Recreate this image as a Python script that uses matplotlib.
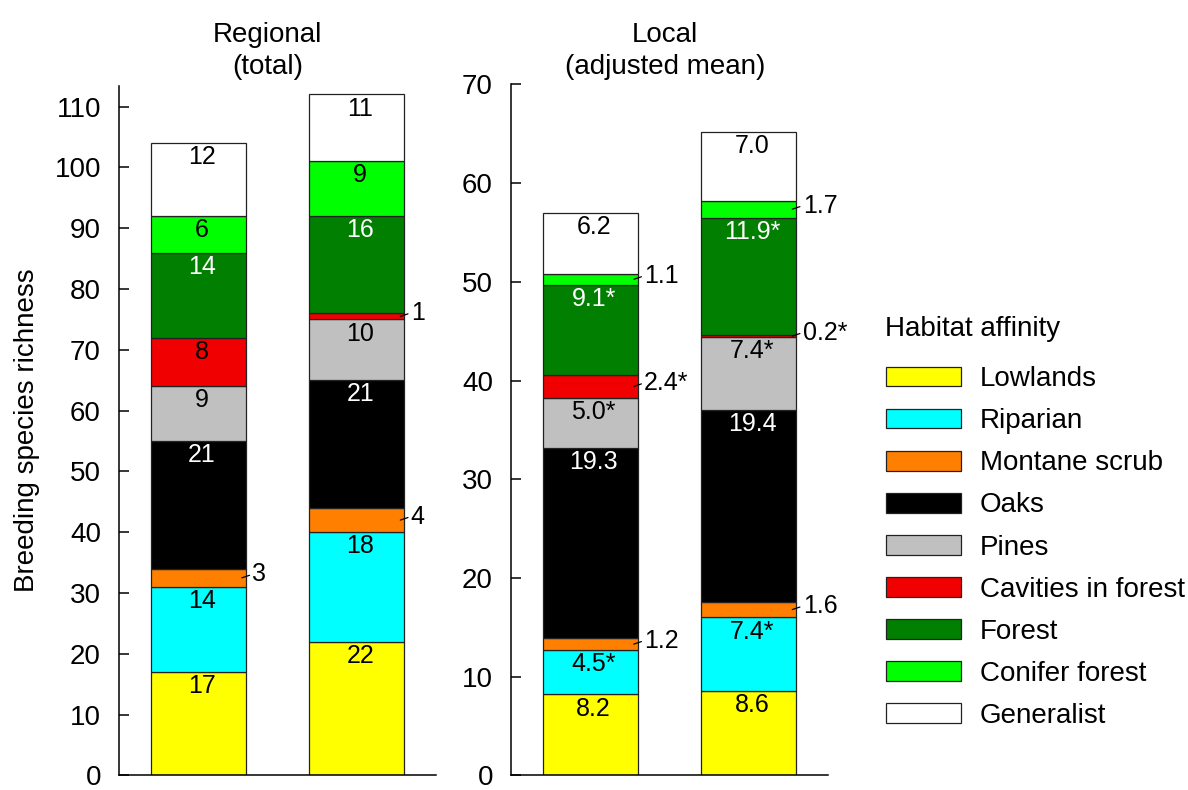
import matplotlib
matplotlib.use("Agg")
import matplotlib.pyplot as plt
from matplotlib.patches import Patch
import numpy as np

plt.rcParams['font.family'] = ['Liberation Sans', 'DejaVu Sans']

# Habitat-affinity guilds, stacked bottom to top
categories = ['Lowlands', 'Riparian', 'Montane scrub', 'Oaks', 'Pines',
              'Cavities in forest', 'Forest', 'Conifer forest', 'Generalist']
colors = ['#FFFF00', '#00FFFF', '#FF8000', '#000000', '#C0C0C0',
          '#F00000', '#007F00', '#00FF00', '#FFFFFF']
text_colors = ['black', 'black', 'black', 'white', 'black',
               'black', 'white', 'black', 'black']

# Regional species totals for the two bars
regional_a = [17, 14, 3, 21, 9, 8, 14, 6, 12]
regional_b = [22, 18, 4, 21, 10, 1, 16, 9, 11]

# Local adjusted means (asterisk = significant difference)
local_a = [8.2, 4.5, 1.2, 19.3, 5.0, 2.4, 9.1, 1.1, 6.2]
local_b = [8.6, 7.4, 1.6, 19.4, 7.4, 0.2, 11.9, 1.7, 7.0]
local_a_sig = [False, True, False, False, True, True, True, False, False]
local_b_sig = [False, True, False, False, True, True, True, False, False]

regional_ticks = list(range(0, 111, 10))
local_ticks = list(range(0, 71, 10))

fig = plt.figure(figsize=(11.88, 7.90), dpi=100)
ax_reg = fig.add_axes([0.1002, 0.0184, 0.2668, 0.8728])
ax_loc = fig.add_axes([0.4301, 0.0184, 0.2668, 0.8749])

BAR_W = 0.6
INLABEL = 18
TICKFS = 20


def stacked(ax, series, labels, min_inside):
    for xi, (vals, labs) in enumerate(zip(series, labels)):
        bottom = 0.0
        for k, (v, lab) in enumerate(zip(vals, labs)):
            ax.bar(xi, v, width=BAR_W, bottom=bottom, color=colors[k],
                   edgecolor='#222222', linewidth=0.9, zorder=2)
            top = bottom + v
            if v >= min_inside:
                ax.annotate(lab, xy=(xi, top), xytext=(2.5, -1.5),
                            textcoords='offset points', ha='center', va='top',
                            fontsize=INLABEL, color=text_colors[k], zorder=3)
            else:
                yc = bottom + v / 2
                ax.annotate(lab, xy=(xi + BAR_W / 2 - 0.025, yc),
                            xytext=(7.5, 2.5), textcoords='offset points',
                            ha='left', va='center', fontsize=INLABEL,
                            color='black', zorder=3,
                            arrowprops=dict(arrowstyle='-', lw=0.9,
                                            color='black', shrinkA=0,
                                            shrinkB=0, relpos=(0, 0.5)))
            bottom = top


def style(ax, ymax, ticks):
    ax.set_xlim(-0.5, 1.5)
    ax.set_ylim(0, ymax)
    ax.set_yticks(ticks)
    ax.spines['top'].set_visible(False)
    ax.spines['right'].set_visible(False)
    for s in ('left', 'bottom'):
        ax.spines[s].set_linewidth(1.1)
    ax.tick_params(axis='y', direction='in', length=7, width=1.1,
                   labelsize=TICKFS, pad=13)
    ax.tick_params(axis='x', bottom=False, labelbottom=False)


reg_labels = [[f'{v:d}' for v in regional_a], [f'{v:d}' for v in regional_b]]
loc_labels = [[f'{v:.1f}' + ('*' if s else '') for v, s in zip(local_a, local_a_sig)],
              [f'{v:.1f}' + ('*' if s else '') for v, s in zip(local_b, local_b_sig)]]

stacked(ax_reg, [regional_a, regional_b], reg_labels, min_inside=5)
stacked(ax_loc, [local_a, local_b], loc_labels, min_inside=3)
style(ax_reg, 113.4, regional_ticks)
style(ax_loc, 70, local_ticks)

fig.text(0.225, 0.899, 'Regional\n(total)', ha='center', va='bottom',
         fontsize=20, linespacing=1.3)
fig.text(0.560, 0.899, 'Local\n(adjusted mean)', ha='center', va='bottom',
         fontsize=20, linespacing=1.3)
fig.text(0.0227, 0.456, 'Breeding species richness', rotation=90,
         ha='center', va='center', fontsize=20)

# Legend title drawn separately so its gap to the entries can be set freely
fig.text(0.7450, 0.5835, 'Habitat affinity', ha='left', va='center',
         fontsize=20)
handles = [Patch(facecolor=c, edgecolor='#222222', linewidth=0.9) for c in colors]
leg = fig.legend(handles, categories,
                 loc='upper left', bbox_to_anchor=(0.7458, 0.5365),
                 frameon=False, fontsize=20,
                 handlelength=2.7, handleheight=0.72, handletextpad=0.68,
                 labelspacing=0.58, borderpad=0, borderaxespad=0)

fig.savefig('out.png', dpi=100)
